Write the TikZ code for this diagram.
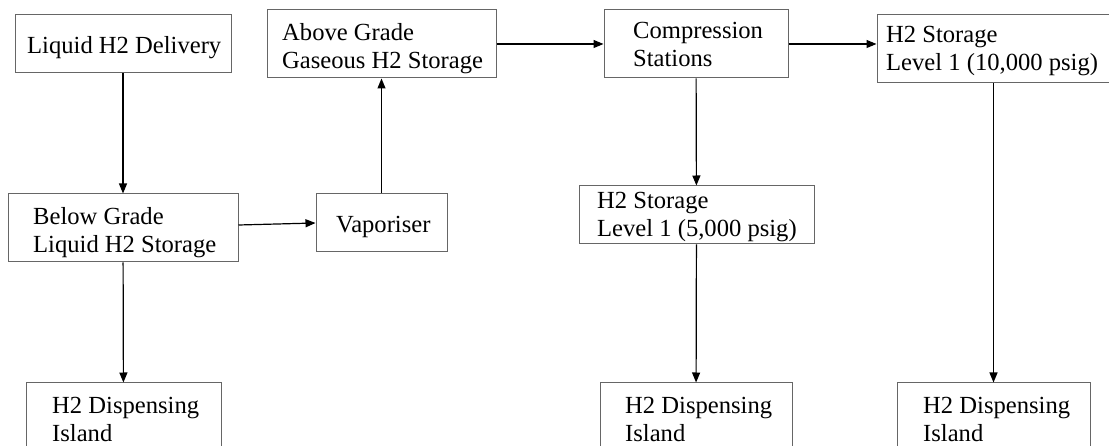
\documentclass[tikz,border=0pt]{standalone}
\usepackage{fontspec}
\setmainfont{Liberation Serif}
\usetikzlibrary{arrows.meta}

\begin{document}
\begin{tikzpicture}[x=1pt,y=-1pt,
	box/.style={draw=black!60,line width=1pt,rectangle,inner sep=0pt},
	txt/.style={anchor=north west,inner sep=0pt,align=left,font=\fontsize{24.6}{28}\selectfont},
	flow/.style={-{Triangle[length=10pt,width=8pt]},line width=1.2pt}]
	\path[use as bounding box,clip] (0,0) rectangle (1109,446);
	% boxes
	\node[box,minimum width=216pt,minimum height=58pt] (deliv) at (123,44) {};
	\node[box,minimum width=229pt,minimum height=68pt] (above) at (381.5,44) {};
	\node[box,minimum width=230pt,minimum height=68pt] (below) at (123,228) {};
	\node[box,minimum width=131pt,minimum height=58pt] (vap) at (381.5,223) {};
	\node[box,minimum width=184pt,minimum height=68pt] (comp) at (696,44) {};
	\node[box,minimum width=234pt,minimum height=68pt] (stten) at (994,49) {};
	\node[box,minimum width=235pt,minimum height=58pt] (stfive) at (696.5,215) {};
	\node[box,minimum width=195pt,minimum height=68pt] (dispa) at (123.5,417) {};
	\node[box,minimum width=192pt,minimum height=68pt] (dispb) at (696,417) {};
	\node[box,minimum width=193pt,minimum height=68pt] (dispc) at (993.5,417) {};
	% texts
	\node[txt] (deliv-t) at (27,33.4) {\strut Liquid H2 Delivery};
	\node[txt] (above-t) at (282,20.4) {\strut Above Grade\\\strut Gaseous H2 Storage};
	\node[txt] (below-t) at (33,204.4) {\strut Below Grade\\\strut Liquid H2 Storage};
	\node[txt] (vap-t) at (336,212.4) {\strut Vaporiser};
	\node[txt] (comp-t) at (633,18.4) {\strut Compression\\\strut Stations};
	\node[txt] (stten-t) at (886,22.4) {\strut H2 Storage\\\strut Level 1 (10,000 psig)};
	\node[txt] (stfive-t) at (597,188.4) {\strut H2 Storage\\\strut Level 1 (5,000 psig)};
	\node[txt] (dispa-t) at (52,393.4) {\strut H2 Dispensing\\\strut Island};
	\node[txt] (dispb-t) at (625,393.4) {\strut H2 Dispensing\\\strut Island};
	\node[txt] (dispc-t) at (923,393.4) {\strut H2 Dispensing\\\strut Island};
	% flows
	\draw[flow] (deliv) -- (below);
	\draw[flow] ([yshift=3pt]below.east) -- (vap.west);
	\draw[flow] (vap) -- (above);
	\draw[flow] (above) -- (comp);
	\draw[flow] (comp.east) -- (comp.east -| stten.west);
	\draw[flow] (comp) -- (stfive);
	\draw[flow] (below) -- (dispa);
	\draw[flow] (stfive) -- (dispb);
	\draw[flow] (stten.south -| dispc.north) -- (dispc);
\end{tikzpicture}
\end{document}
